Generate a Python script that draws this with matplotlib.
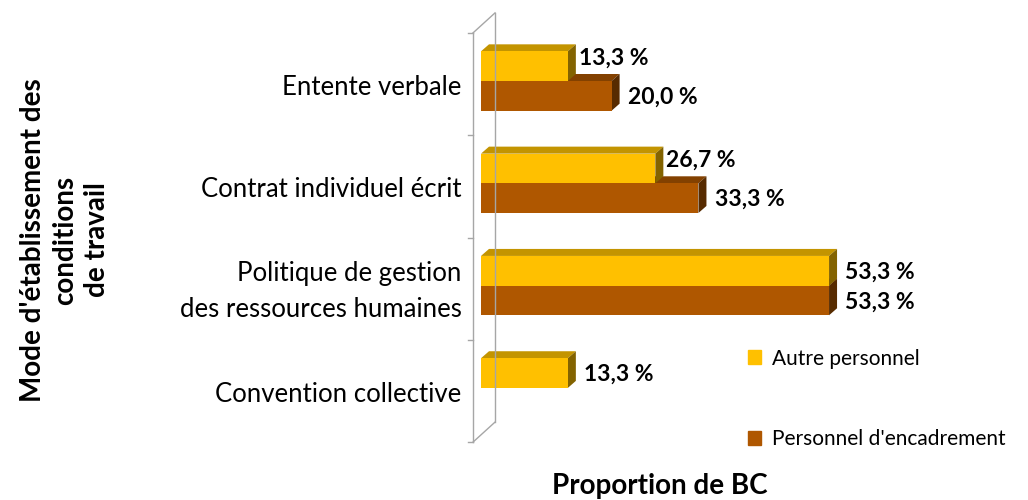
import matplotlib.pyplot as plt
from matplotlib.patches import Polygon, Rectangle
import numpy as np

plt.rcParams['font.family'] = ['Lato', 'DejaVu Sans']

categories = ["Entente verbale", "Contrat individuel écrit",
              "Politique de gestion\ndes ressources humaines", "Convention collective"]
autre = [13.3, 26.7, 53.3, 13.3]
encadrement = [20.0, 33.3, 53.3, 0.0]
series_names = ["Autre personnel", "Personnel d'encadrement"]

# front / top / side shades
YELLOW = ("#FFC000", "#C39400", "#836300")
ORANGE = ("#AF5700", "#834100", "#572B00")

W, H = 1028, 500
fig = plt.figure(figsize=(W / 100, H / 100), dpi=100)
ax = fig.add_axes([466 / W, 0, (W - 466) / W, 1])
px_per_pct = 6.53
px_per_cat = 102.3
ax.set_xlim((466 - 481) / px_per_pct, (W - 481) / px_per_pct)
ax.set_ylim((H - 81) / px_per_cat, -81 / px_per_cat)
ax.axis("off")

DX = 8 / px_per_pct   # depth offset in x (data units)
DY = 7 / px_per_cat   # depth offset in y (data units)
BH = 0.29


def bar3d(y, v, colors):
    if v <= 0:
        return
    front, top, side = colors
    y0, y1 = y - BH / 2, y + BH / 2
    ax.add_patch(Polygon([(0, y0), (v, y0), (v + DX, y0 - DY), (DX, y0 - DY)],
                         facecolor=top, edgecolor="none"))
    ax.add_patch(Polygon([(v, y0), (v + DX, y0 - DY), (v + DX, y1 - DY), (v, y1)],
                         facecolor=side, edgecolor="none"))
    ax.barh(y, v, height=BH, color=front, edgecolor="none")


def label(y, v, dx=6, dy=-1):
    ax.annotate(f"{v:.1f} %".replace(".", ","), xy=(v + DX, y), xytext=(dx, dy),
                textcoords="offset points", ha="left", va="center",
                fontsize=16.5, fontweight="bold")


# walls
n = len(categories)
wx_front, wx_back = -8 / px_per_pct, 14 / px_per_pct
ticks = np.arange(n + 1) - 0.47
ax.plot([wx_front, wx_front], [ticks[0], ticks[-1]], color="#a6a6a6", lw=1)
ax.plot([wx_back, wx_back], [ticks[0] - 20 / px_per_cat, ticks[-1] - 20 / px_per_cat],
        color="#a6a6a6", lw=1)
for t in (ticks[0], ticks[-1]):
    ax.plot([wx_front, wx_back], [t, t - 20 / px_per_cat], color="#a6a6a6", lw=1)
for t in ticks:
    ax.plot([wx_front - 5 / px_per_pct, wx_front], [t, t], color="#a6a6a6", lw=1)

for i in range(n):
    bar3d(i + BH / 2, encadrement[i], ORANGE)
    bar3d(i - BH / 2, autre[i], YELLOW)
for i in range(n):
    if autre[i] > 0:
        # nudge up when the bar below sticks out further (avoid overlap)
        if encadrement[i] > autre[i]:
            label(i - BH / 2, autre[i], dx=2, dy=6)
        else:
            label(i - BH / 2, autre[i])
    if encadrement[i] > 0:
        label(i + BH / 2, encadrement[i])

for i, c in enumerate(categories):
    ax.text(-2.95, i + 0.06, c, ha="right", va="center", fontsize=18.5,
            linespacing=1.55, clip_on=False)

# legend
handles = [Rectangle((0, 0), 1, 1, color=YELLOW[0]), Rectangle((0, 0), 1, 1, color=ORANGE[0])]
fig.legend(handles, series_names, loc="upper left", bbox_to_anchor=(729 / W, 1 - 330 / H),
           frameon=False, fontsize=15, handlelength=0.65, handleheight=0.65,
           handletextpad=0.5, labelspacing=2.9)

fig.text(660 / W, 1 - 486 / H, "Proportion de BC", ha="center", va="center",
         fontsize=20, fontweight="bold")
fig.text(65 / W, 1 - 240 / H, "Mode d'établissement des\nconditions\nde travail",
         ha="center", va="center", rotation=90, fontsize=20, fontweight="bold",
         linespacing=1.3)

fig.savefig("out.png", dpi=100)
